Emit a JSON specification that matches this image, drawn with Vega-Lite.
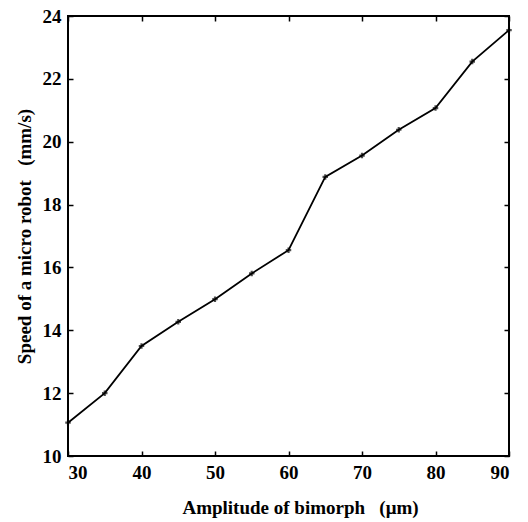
{
  "$schema": "https://vega.github.io/schema/vega-lite/v6.json",
  "autosize": {"type": "none"},
  "padding": {"left": 68, "top": 16, "right": 19, "bottom": 66},
  "width": 441,
  "height": 440,
  "background": "white",
  "config": {
    "view": {"stroke": "black", "strokeWidth": 2},
    "axis": {
      "labelFont": "Liberation Serif",
      "titleFont": "Liberation Serif",
      "labelFontSize": 19,
      "titleFontSize": 19,
      "labelFontWeight": "bold",
      "titleFontWeight": "bold",
      "labelColor": "black",
      "titleColor": "black",
      "grid": false,
      "domain": false,
      "tickColor": "black",
      "tickSize": -5,
      "tickWidth": 1.5
    }
  },
  "data": {"values": [
    {"a": 30, "s": 11.06},
    {"a": 35, "s": 12.0},
    {"a": 40, "s": 13.5},
    {"a": 45, "s": 14.27},
    {"a": 50, "s": 14.99},
    {"a": 55, "s": 15.81},
    {"a": 60, "s": 16.55},
    {"a": 65, "s": 18.88},
    {"a": 70, "s": 19.56},
    {"a": 75, "s": 20.38},
    {"a": 80, "s": 21.07},
    {"a": 85, "s": 22.55},
    {"a": 90, "s": 23.55}
  ]},
  "layer": [
    {
      "mark": {"type": "line", "color": "black", "strokeWidth": 1.8},
      "encoding": {
        "x": {"field": "a", "type": "quantitative", "scale": {"domain": [30, 90], "nice": false},
              "axis": {"values": [30, 40, 50, 60, 70, 80, 90], "title": "Amplitude of bimorph\u00a0\u00a0 (μm)", "labelPadding": 12, "titlePadding": 16, "titleX": 232}},
        "y": {"field": "s", "type": "quantitative", "scale": {"domain": [10, 24], "nice": false, "zero": false},
              "axis": {"values": [10, 12, 14, 16, 18, 20, 22, 24], "title": "Speed of a micro robot\u00a0\u00a0 (mm/s)", "labelPadding": 12, "titlePadding": 8}}
      }
    },
    {
      "mark": {"type": "point", "shape": "cross", "filled": true, "color": "black", "size": 30},
      "encoding": {
        "x": {"field": "a", "type": "quantitative", "scale": {"domain": [30, 90], "nice": false},
              "axis": {"orient": "top", "values": [30, 40, 50, 60, 70, 80, 90], "labels": false, "title": null}},
        "y": {"field": "s", "type": "quantitative", "scale": {"domain": [10, 24], "nice": false, "zero": false},
              "axis": {"orient": "right", "values": [10, 12, 14, 16, 18, 20, 22, 24], "labels": false, "title": null}}
      }
    }
  ],
  "resolve": {"scale": {"x": "independent", "y": "independent"}, "axis": {"x": "independent", "y": "independent"}}
}
